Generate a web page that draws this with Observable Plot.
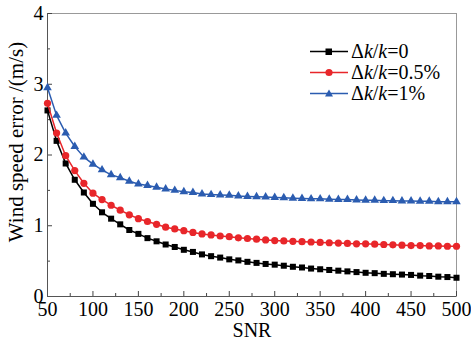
<!DOCTYPE html>
<html>
<head>
<meta charset="utf-8">
<script src="https://cdn.jsdelivr.net/npm/d3@7"></script>
<script src="https://cdn.jsdelivr.net/npm/@observablehq/plot@0.6"></script>
<style>
  html, body { margin: 0; padding: 0; background: #fff; }
  #wrap { position: relative; width: 471px; height: 343px; font-family: "Liberation Serif", "Times New Roman", Times, "DejaVu Serif", serif; }
  #wrap svg text { font-family: "Liberation Serif", "Times New Roman", Times, "DejaVu Serif", serif !important; }
  #legend { position: absolute; left: 310px; top: 41px; font-size: 20px; line-height: 21px; color: #000; }
  .row { display: flex; align-items: center; height: 21px; }
  .row svg { margin-right: 3px; }
  #ylabel { position: absolute; left: 16px; top: 142px; transform: translate(-50%, -50%) rotate(-90deg); white-space: nowrap; font-size: 21px; line-height: 22px; color: #000; }
</style>
</head>
<body>
<div id="wrap"></div>
<script>
const snr = [50,60,70,80,90,100,110,120,130,140,150,160,170,180,190,200,210,220,230,240,250,260,270,280,290,300,310,320,330,340,350,360,370,380,390,400,410,420,430,440,450,460,470,480,490,500];
const err0 = [2.63,2.20,1.88,1.65,1.47,1.31,1.19,1.10,1.02,0.94,0.885,0.825,0.78,0.735,0.70,0.66,0.63,0.595,0.57,0.55,0.525,0.51,0.49,0.475,0.46,0.45,0.435,0.42,0.41,0.395,0.385,0.375,0.365,0.355,0.345,0.335,0.33,0.32,0.315,0.31,0.305,0.295,0.29,0.28,0.275,0.265];
const err05 = [2.73,2.31,1.99,1.78,1.60,1.46,1.37,1.29,1.22,1.155,1.10,1.06,1.02,0.98,0.955,0.93,0.905,0.885,0.87,0.855,0.845,0.83,0.82,0.81,0.80,0.79,0.785,0.78,0.775,0.77,0.765,0.76,0.755,0.75,0.745,0.745,0.74,0.735,0.73,0.725,0.72,0.72,0.715,0.715,0.71,0.71];
const err1 = [2.95,2.56,2.31,2.12,1.97,1.87,1.79,1.72,1.68,1.63,1.59,1.57,1.545,1.52,1.50,1.48,1.47,1.45,1.44,1.435,1.43,1.42,1.415,1.41,1.405,1.40,1.395,1.39,1.385,1.38,1.38,1.375,1.37,1.37,1.365,1.36,1.36,1.355,1.355,1.35,1.35,1.345,1.345,1.34,1.34,1.34];
const seriesNames = ["Δk/k=0", "Δk/k=0.5%", "Δk/k=1%"];
const seriesColors = ["#000000", "#e8262a", "#2b5cb0"];
const seriesSymbols = ["square", "circle", "triangle"];
const xTicks = [50,100,150,200,250,300,350,400,450,500];
const xMinor = [75,125,175,225,275,325,375,425,475];
const yTicks = [0,1,2,3,4];
const yMinor = [0.5,1.5,2.5,3.5];
const xLabel = "SNR";
const yLabel = "Wind speed error /(m/s)";

const seriesVals = [err0, err05, err1];
const data = seriesVals.flatMap((vals, i) => vals.map((v, j) => ({snr: snr[j], err: v, s: i})));

const marks = [];
seriesVals.forEach((vals, i) => {
  const d = data.filter(r => r.s === i);
  marks.push(Plot.line(d, {x: "snr", y: "err", stroke: seriesColors[i], strokeWidth: 1.5}));
  marks.push(Plot.dot(d, {x: "snr", y: "err", fill: seriesColors[i], stroke: "none",
    symbol: () => seriesSymbols[i], r: i === 0 ? 3.4 : (i === 1 ? 3.6 : 3.2)}));
});

const blank = () => "";
const fmt = d3.format("d");
const chart = Plot.plot({
  width: 471,
  height: 343,
  marginLeft: 47,
  marginRight: 15,
  marginTop: 13,
  marginBottom: 47,
  style: {fontFamily: "Liberation Serif, Times New Roman, serif", fontSize: "19px", color: "#000", background: "#fff"},
  x: {domain: [50, 500]},
  y: {domain: [0, 4]},
  marks: [
    Plot.frame({stroke: "#999", strokeWidth: 1}),
    Plot.axisX(xTicks, {tickSize: 0, tickPadding: 5, fontSize: 20, tickFormat: fmt, label: xLabel, labelAnchor: "center", labelOffset: 40, labelArrow: "none"}),
    Plot.axisX(xTicks, {tickSize: 5, dy: -5, tickFormat: blank, label: null, stroke: "#444"}),
    Plot.axisX(xMinor, {tickSize: 3, dy: -3, tickFormat: blank, label: null, stroke: "#444"}),
    Plot.axisY(yTicks, {tickSize: 0, tickPadding: 4, fontSize: 20, tickFormat: fmt, label: null}),
    Plot.axisY(yTicks, {tickSize: 5, dx: 5, tickFormat: blank, label: null, stroke: "#444"}),
    Plot.axisY(yMinor, {tickSize: 3, dx: 3, tickFormat: blank, label: null, stroke: "#444"}),
    Plot.ruleX([50], {stroke: "#555"}),
    Plot.ruleY([0], {stroke: "#555"}),
    ...marks
  ]
});

const wrap = document.getElementById("wrap");
wrap.appendChild(chart);

const yl = document.createElement("div");
yl.id = "ylabel";
yl.textContent = yLabel;
wrap.appendChild(yl);

// legend
const legend = document.createElement("div");
legend.id = "legend";
const symPath = {
  square: '<rect x="15.5" y="7.5" width="6.5" height="6.5"/>',
  circle: '<circle cx="19" cy="10.5" r="3.6"/>',
  triangle: '<path d="M19,6.5 L23,13.5 L15,13.5 Z"/>'
};
seriesNames.forEach((name, i) => {
  const row = document.createElement("div");
  row.className = "row";
  const parts = name.split("k");
  row.innerHTML = `<svg width="38" height="21"><line x1="0" x2="38" y1="10.5" y2="10.5" stroke="${seriesColors[i]}" stroke-width="1.5"/><g fill="${seriesColors[i]}">${symPath[seriesSymbols[i]]}</g></svg>` +
    `<span>${parts[0]}<i>k</i>${parts[1]}<i>k</i>${parts[2]}</span>`;
  legend.appendChild(row);
});
wrap.appendChild(legend);
</script>
</body>
</html>
